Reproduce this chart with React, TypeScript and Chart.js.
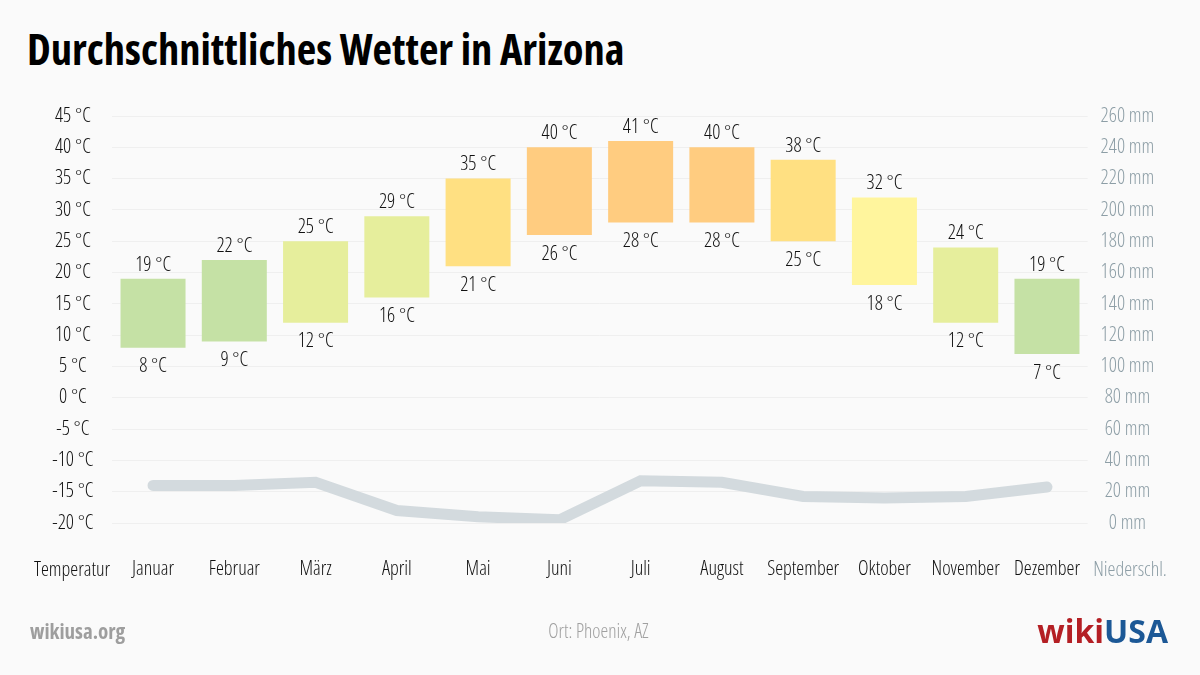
import React, { useEffect, useRef } from "react";
import { Chart, registerables } from "chart.js";

Chart.register(...registerables);

const months = ["Januar", "Februar", "März", "April", "Mai", "Juni", "Juli", "August", "September", "Oktober", "November", "Dezember"];
const tempMax = [19, 22, 25, 29, 35, 40, 41, 40, 38, 32, 24, 19];
const tempMin = [8, 9, 12, 16, 21, 26, 28, 28, 25, 18, 12, 7];
const precipitation = [24, 24, 26, 8, 4, 2, 27, 26, 17, 16, 17, 23];
const barColors = ["#c5e1a5", "#c5e1a5", "#e6ee9c", "#e6ee9c", "#ffe082", "#ffcc80", "#ffcc80", "#ffcc80", "#ffe082", "#fff59d", "#e6ee9c", "#c5e1a5"];
const tempUnit = "°C";
const precUnit = "mm";
const leftAxisTitle = "Temperatur";
const rightAxisTitle = "Niederschl.";

const FAMILY = "'Open Sans', 'Noto Sans', sans-serif";
const LIGHT = "condensed 300";

const labelPlugin = {
  id: "labelPlugin",
  afterDatasetsDraw(chart: any) {
    const ctx = chart.ctx;
    const y = chart.scales.y;
    const meta = chart.getDatasetMeta(0);
    ctx.save();
    ctx.font = `${LIGHT} 20px ${FAMILY}`;
    ctx.fillStyle = "#111111";
    ctx.textAlign = "center";
    ctx.textBaseline = "middle";
    meta.data.forEach((el: any, i: number) => {
      const top = y.getPixelForValue(tempMax[i]);
      const bottom = y.getPixelForValue(tempMin[i]);
      ctx.fillText(`${tempMax[i]} ${tempUnit}`, el.x, top - 14);
      ctx.fillText(`${tempMin[i]} ${tempUnit}`, el.x, bottom + 19);
    });
    ctx.restore();
  },
  afterDraw(chart: any) {
    const ctx = chart.ctx;
    const area = chart.chartArea;
    ctx.save();
    ctx.font = `${LIGHT} 20px ${FAMILY}`;
    ctx.textAlign = "center";
    ctx.textBaseline = "middle";
    ctx.fillStyle = "#111111";
    ctx.fillText(leftAxisTitle, 72, area.bottom + 47);
    ctx.fillStyle = "#8d9ea6";
    ctx.fillText(rightAxisTitle, 1130, area.bottom + 47);
    ctx.restore();
  },
};

export default function App() {
  const ref = useRef<HTMLCanvasElement | null>(null);
  useEffect(() => {
    if (!ref.current) return;
    const chart = new Chart(ref.current, {
      type: "bar",
      data: {
        labels: months,
        datasets: [
          {
            type: "bar",
            label: "Temperatur",
            data: tempMin.map((v, i) => [v, tempMax[i]]) as any,
            backgroundColor: barColors,
            borderWidth: 0,
            barPercentage: 0.8,
            categoryPercentage: 1,
            yAxisID: "y",
            order: 1,
          },
          {
            type: "line",
            label: "Niederschlag",
            data: precipitation,
            borderColor: "#d3dade",
            borderWidth: 11,
            pointRadius: 0,
            borderCapStyle: "round",
            borderJoinStyle: "miter",
            tension: 0,
            yAxisID: "y2",
            order: 2,
          } as any,
        ],
      },
      options: {
        animation: false,
        responsive: false,
        maintainAspectRatio: false,
        layout: { padding: { left: 0, right: 0, top: 116, bottom: 82 } },
        plugins: { legend: { display: false }, tooltip: { enabled: false } },
        scales: {
          x: {
            grid: { display: false, drawTicks: false },
            border: { display: false },
            ticks: {
              color: "#111111",
              padding: 34,
              maxRotation: 0,
              autoSkip: false,
              font: { family: FAMILY, size: 20, weight: LIGHT as any },
            },
            afterFit: (s: any) => { s.height = 70; },
          },
          y: {
            position: "left",
            min: -20,
            max: 45,
            ticks: {
              stepSize: 5,
              color: "#111111",
              padding: 19,
              crossAlign: "center",
              font: { family: FAMILY, size: 20, weight: LIGHT as any },
              callback: (v: any) => `${v} ${tempUnit}`,
            },
            grid: { color: "#efefef", drawTicks: false, lineWidth: 1 },
            border: { display: false },
            afterFit: (s: any) => { s.width = 112.4; },
          },
          y2: {
            position: "right",
            min: 0,
            max: 260,
            ticks: {
              stepSize: 20,
              color: "#8d9ea6",
              padding: 13,
              crossAlign: "center",
              font: { family: FAMILY, size: 20, weight: LIGHT as any },
              callback: (v: any) => `${v} ${precUnit}`,
            },
            grid: { display: false, drawTicks: false },
            border: { display: false },
            afterFit: (s: any) => { s.width = 112.4; },
          },
        },
      },
      plugins: [labelPlugin],
    });
    return () => chart.destroy();
  }, []);

  const cond = { fontFamily: FAMILY, fontStretch: "condensed" as any };
  return (
    <div style={{ position: "absolute", left: 0, top: 0, width: 1200, height: 675, background: "#fafafa", overflow: "hidden" }}>
      <div style={{ ...cond, position: "absolute", left: 27, top: 20, fontSize: 42.5, fontWeight: 700, color: "#000", whiteSpace: "nowrap", lineHeight: "58px" }}>
        Durchschnittliches Wetter in Arizona
      </div>
      <canvas ref={ref} width={1200} height={675} style={{ position: "absolute", left: 0, top: 0, width: 1200, height: 675 }} />
      <div style={{ ...cond, position: "absolute", left: 30, top: 616, fontSize: 21, fontWeight: 700, color: "#9e9e9e", lineHeight: "30px" }}>wikiusa.org</div>
      <div style={{ ...cond, position: "absolute", left: 0, width: 1197, textAlign: "center", top: 617, fontSize: 19.5, fontWeight: 300, color: "#a0a0a0", lineHeight: "28px" }}>Ort: Phoenix, AZ</div>
      <div style={{ position: "absolute", right: 32, top: 611, fontFamily: FAMILY, fontSize: 32, fontWeight: 700, lineHeight: "40px", letterSpacing: "0px" }}>
        <span style={{ color: "#b41f24" }}>wiki</span>
        <span style={{ color: "#1c5896" }}>USA</span>
      </div>
    </div>
  );
}
